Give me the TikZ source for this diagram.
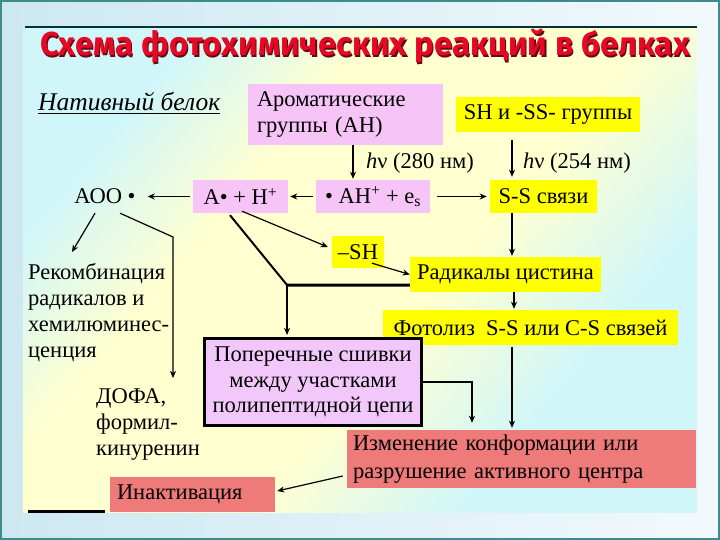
\documentclass[tikz,border=0pt]{standalone}
\usepackage{fontspec}
\setmainfont{Liberation Serif}
\newfontfamily\titlefont{Fira Sans}
\usetikzlibrary{arrows.meta,calc}
\definecolor{pinkfill}{RGB}{246,196,246}
\definecolor{popfill}{RGB}{242,200,250}
\definecolor{yellowfill}{RGB}{255,255,0}
\definecolor{redfill}{RGB}{238,122,122}
\definecolor{bgcyan}{RGB}{208,246,250}
\definecolor{bgyellow}{RGB}{255,255,208}
\definecolor{outerA}{RGB}{205,232,242}
\definecolor{outerB}{RGB}{242,249,252}
\definecolor{framec}{RGB}{60,140,140}
\definecolor{titlered}{RGB}{230,8,36}
\definecolor{titleshadow}{RGB}{95,10,20}
\pgfdeclareverticalshading{slidebg}{100bp}{color(0bp)=(bgcyan); color(30bp)=(bgcyan); color(44bp)=(bgyellow); color(62bp)=(bgyellow); color(74bp)=(bgcyan); color(100bp)=(bgcyan)}
\newcommand{\titletext}{\titlefont\bfseries Схема фотохимических реакций в белках}
\begin{document}
\begin{tikzpicture}[x=1pt,y=-1pt,
  every node/.style={font=\fontsize{22.5}{26.5}\selectfont, inner sep=0pt},
  pinkbox/.style={fill=pinkfill, align=center},
  yellowbox/.style={fill=yellowfill, align=center},
  redbox/.style={fill=redfill, align=left},
  arr/.style={-{Stealth[length=7pt,width=6pt,inset=2pt]}, line width=1.2pt},
  heavyarr/.style={-{Stealth[length=7pt,width=6pt,inset=2pt]}, line width=2pt},
  heavy/.style={line width=2pt},
  thickline/.style={line width=3pt}]
\useasboundingbox (0,0) rectangle (720,540);
% backgrounds
\shade[left color=outerA, right color=outerB] (0,0) rectangle (720,540);
\draw[framec, line width=2pt] (1,1) rectangle (719,539);
\begin{scope}
\clip (23,27) rectangle (697,512);
\shade[shading=slidebg, shading angle=50] (23,27) rectangle (697,512);
\end{scope}
\draw[line width=1.5pt, black!60!teal] (25,27) -- (697,27);

% title (with its shadow, in one node)
\node (title) at (365,47) {\resizebox{650pt}{!}{\makebox[0pt][l]{\raisebox{-0.9pt}{\hspace{0.9pt}\color{titleshadow}\titletext}}\color{titlered}\titletext}};

% nodes
\node[anchor=base west, font=\fontsize{25.5}{30}\selectfont] (native) at (38,111) {\itshape Нативный белок};
\draw[line width=1.3pt] ($(native.south west)+(0,2)$) -- ($(native.south east)+(0,2)$);

\node[pinkbox, minimum width=195, minimum height=61, text width=177, align=left] (arom) at (345.5,114.5) {Ароматические\\группы (АН)};
\node[yellowbox, minimum width=184, minimum height=35] (shgr) at (548,114.5) {SH и -SS- группы};

\node[minimum width=65, minimum height=33] (aoo) at (105,196.5) {АОО •};
\node[pinkbox, minimum width=95, minimum height=33] (ah) at (240.5,196.5) {А• + Н\textsuperscript{+}};
\node[pinkbox, minimum width=114, minimum height=33] (ahe) at (373,196.5) {• АН\textsuperscript{+} + e\textsubscript{s}};
\node[yellowbox, minimum width=107, minimum height=33] (ss) at (543.5,196.5) {S-S связи};

\node[anchor=west] (lbl280) at (366,163) {{\itshape h}ν (280 нм)};
\node[anchor=west] (lbl254) at (523,163) {{\itshape h}ν (254 нм)};

\node[yellowbox, minimum width=52, minimum height=32] (sh) at (358,252) {–SH};
\node[yellowbox, minimum width=191, minimum height=35] (rad) at (505.5,274.5) {Радикалы цистина};
\node[yellowbox, minimum width=295, minimum height=35] (foto) at (530.5,327.5) {Фотолиз\ \ S-S или C-S связей};

\node[anchor=north west, align=left, font=\fontsize{22.5}{26}\selectfont] (rec) at (28,263) {Рекомбинация\\радикалов и\\хемилюминес-\\ценция};
\node[anchor=north west, align=left, font=\fontsize{22.5}{26}\selectfont] (dofa) at (96,388.5) {ДОФА,\\формил-\\кинуренин};

\node[fill=popfill, draw=black, line width=3pt, minimum width=217, minimum height=87, align=center, font=\fontsize{22.5}{25.5}\selectfont] (pop) at (313,382) {Поперечные сшивки\\между участками\\полипептидной цепи};

\node[redbox, minimum width=349, minimum height=58, text width=337, font=\fontsize{22.5}{28}\selectfont] (izm) at (521.5,459) {Изменение конформации или\\разрушение активного центра};
\node[redbox, minimum width=165, minimum height=35, text width=151] (inak) at (192.5,494.5) {Инактивация};

\draw[line width=3pt] (28,511) -- (105,511);

% connectors
\draw[arr] ($(arom.south)+(7.5,0)$) -- ($(ahe.north)+(-20,-1)$);
\draw[arr] ($(shgr.south)+(-36,8)$) -- ($(ss.north)+(-31.5,-3)$);
\draw[arr] ($(ss.south)+(-31.5,0)$) -- ($(rad.north)+(6.5,-1)$);
\draw[arr] ($(rad.south)+(8.5,0)$) -- ($(foto.north)+(-16.5,-1)$);
\draw[arr] ($(foto.south)+(-18.5,2)$) -- ($(izm.north)+(-9.5,-2)$);
\draw[arr] ($(ahe.west)+(-3,0)$) -- ($(ah.east)+(2,0)$);
\draw[arr] ($(ah.west)+(-3,0)$) -- ($(aoo.east)+(10,0)$);
\draw[arr] ($(ahe.east)+(7,0)$) -- ($(ss.west)+(-3,0)$);
\draw[arr] ($(aoo.south)+(-10,0)$) -- ($(rec.north west)+(44,-11)$);
\draw[arr] ($(aoo.south)+(15,0)$) -- ($(dofa.north west)+(77,-151.5)$) -- ($(dofa.north west)+(77,-10.5)$);
\draw[arr] ($(ah.south)+(1.5,-2)$) -- ($(sh.west)+(-4,-5)$);
\draw[arr] ($(sh.south)+(14,-5)$) -- (rad.west);
\draw[heavy] ($(ah.south)+(-10.5,2)$) -- ($(pop.north)+(-26,-52)$);
\draw[heavyarr] ($(pop.north)+(-26,-52)$) -- ($(pop.north)+(-26,-2)$);
\draw[thickline] ($(pop.north)+(-27,-52)$) -- ($(rad.south west)+(0,-7)$);
\draw[heavyarr] (pop.east) -| ($(izm.north)+(-49.5,-7)$);
\draw[arr] ($(izm.west)+(-4,17)$) -- ($(inak.east)+(2,-3.5)$);
\end{tikzpicture}
\end{document}
